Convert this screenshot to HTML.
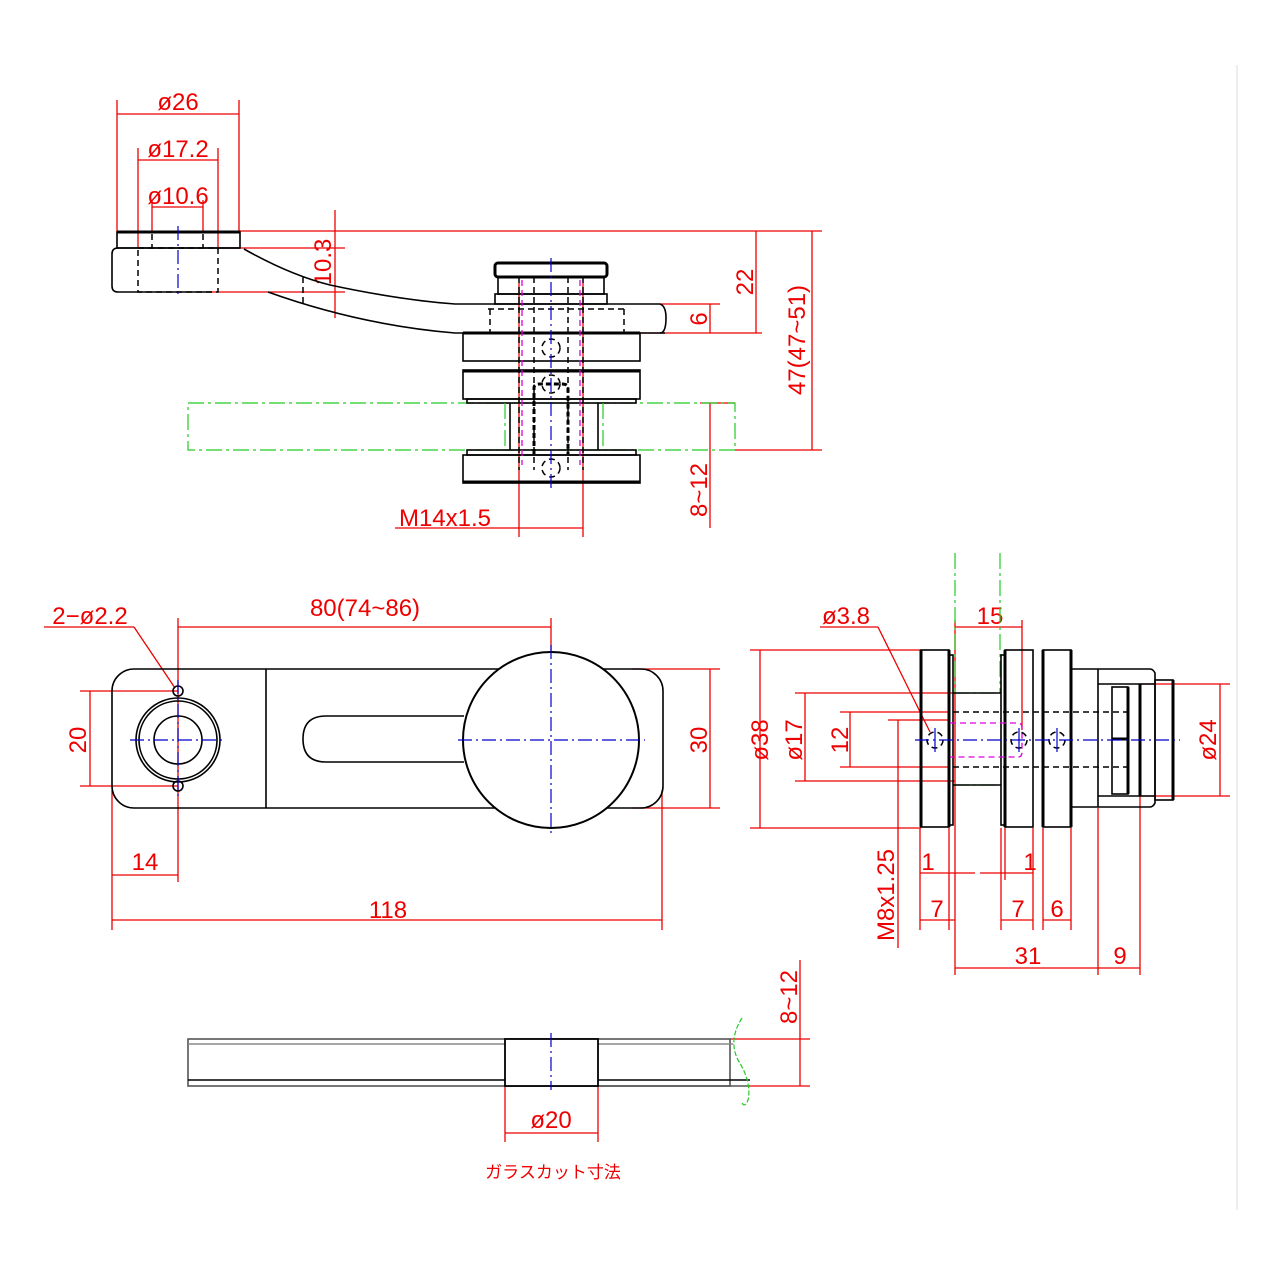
<!DOCTYPE html>
<html><head><meta charset="utf-8"><style>
html,body{margin:0;padding:0;background:#fff;}
svg{display:block;}
text{font-family:"Liberation Sans","Noto Sans CJK JP",sans-serif;fill:#e00;font-size:24px;}
.k{stroke:#000;fill:none;stroke-width:1.6}
.kt{stroke:#000;fill:none;stroke-width:3}
.kd{stroke:#000;fill:none;stroke-width:1.5;stroke-dasharray:6 4}
.r{stroke:#e00;fill:none;stroke-width:1.3}
.b{stroke:#00c;fill:none;stroke-width:1.2;stroke-dasharray:14 4 2 4}
.g{stroke:#2c2;fill:none;stroke-width:1.2;stroke-dasharray:16 4 3 4}
.p{stroke:#d0d;fill:none;stroke-width:1.3;stroke-dasharray:6 4}
</style></head><body>
<svg width="1280" height="1280" viewBox="0 0 1280 1280" xmlns="http://www.w3.org/2000/svg">
<line x1="1237" y1="65" x2="1237" y2="1210" stroke="#ddd" stroke-width="1"/>

<!-- ===== TOP VIEW ===== -->
<!-- dims top -->
<g class="r">
<line x1="117" y1="100" x2="117" y2="232"/><line x1="239" y1="100" x2="239" y2="232"/>
<line x1="117" y1="114" x2="239" y2="114"/>
<line x1="138" y1="148" x2="138" y2="248"/><line x1="218" y1="148" x2="218" y2="248"/>
<line x1="138" y1="160" x2="218" y2="160"/>
<line x1="152" y1="200" x2="152" y2="232"/><line x1="203" y1="200" x2="203" y2="232"/>
<line x1="152" y1="207" x2="203" y2="207"/>
<line x1="239" y1="231" x2="822" y2="231"/>
<line x1="335" y1="210" x2="335" y2="318"/>
<line x1="218" y1="248" x2="345" y2="248"/>
<line x1="212" y1="292" x2="345" y2="292"/>
<line x1="756" y1="231" x2="756" y2="333"/>
<line x1="640" y1="333" x2="762" y2="333"/>
<line x1="660" y1="304" x2="720" y2="304"/>
<line x1="710" y1="304" x2="710" y2="333"/>
<line x1="812" y1="231" x2="812" y2="450"/>
<line x1="735" y1="450" x2="822" y2="450"/>
<line x1="710" y1="403" x2="710" y2="528"/>
<line x1="700" y1="403" x2="735" y2="403"/>
<line x1="519" y1="283" x2="519" y2="537"/><line x1="583" y1="283" x2="583" y2="537"/>
<line x1="395" y1="528" x2="583" y2="528"/>
</g>
<text x="178" y="110" text-anchor="middle">ø26</text>
<text x="178" y="157" text-anchor="middle">ø17.2</text>
<text x="178" y="204" text-anchor="middle">ø10.6</text>
<text transform="translate(331,262) rotate(-90)" text-anchor="middle">10.3</text>
<text transform="translate(753,282) rotate(-90)" text-anchor="middle">22</text>
<text transform="translate(707,319) rotate(-90)" text-anchor="middle">6</text>
<text transform="translate(805,340) rotate(-90)" text-anchor="middle">47(47~51)</text>
<text transform="translate(707,490) rotate(-90)" text-anchor="middle">8~12</text>
<text x="445" y="526" text-anchor="middle">M14x1.5</text>

<!-- glass -->
<rect x="188" y="403" width="547" height="47" class="g"/>
<!-- handle -->
<line x1="117" y1="232" x2="240" y2="232" class="kt"/>
<rect x="117" y="232" width="123" height="16" class="k"/>
<path d="M118 248 Q112 248 112 254 L112 286 Q112 292 118 292 L212 292" class="k"/>
<line x1="118" y1="248" x2="240" y2="248" class="k"/>
<rect x="138" y="248" width="80" height="44" class="kd"/>
<line x1="152" y1="234" x2="152" y2="248" class="kd"/><line x1="203" y1="234" x2="203" y2="248" class="kd"/>
<path d="M244 249 Q290 275 330 285 Q400 300 455 304 L660 304 Q666 306 666 318 Q666 333 660 333" class="k"/>
<path d="M268 292 Q360 325 455 333 L665 333" class="k"/>
<line x1="303" y1="277" x2="303" y2="305" class="kd"/>
<!-- hub -->
<rect x="495" y="263" width="112" height="14" rx="3" class="kt" stroke-width="2.2"/>
<rect x="498" y="277" width="106" height="17" class="k"/>
<rect x="495" y="294" width="112" height="10" class="k"/>
<path d="M488 309 L627 309 M490 309 L490 333 M624 309 L624 333" class="kd"/>
<rect x="463" y="333" width="177" height="28" class="k"/><line x1="463" y1="333" x2="640" y2="333" class="kt"/>
<rect x="463" y="370" width="177" height="29" class="k"/><line x1="463" y1="371" x2="640" y2="371" class="kt"/>
<rect x="467" y="399" width="169" height="4" class="k"/>
<rect x="467" y="450" width="169" height="5" class="k"/>
<rect x="463" y="455" width="177" height="28" class="k"/><line x1="463" y1="482" x2="640" y2="482" class="kt"/>
<line x1="510" y1="403" x2="510" y2="450" class="k"/><line x1="598" y1="403" x2="598" y2="450" class="k"/>
<line x1="505" y1="403" x2="505" y2="450" class="g"/><line x1="603" y1="403" x2="603" y2="450" class="g"/>
<line x1="519" y1="277" x2="519" y2="470" class="kd"/><line x1="534" y1="277" x2="534" y2="470" class="kd"/>
<line x1="568" y1="277" x2="568" y2="470" class="kd"/><line x1="583" y1="277" x2="583" y2="470" class="kd"/>
<line x1="522" y1="280" x2="522" y2="465" class="p"/><line x1="580" y1="280" x2="580" y2="465" class="p"/>
<path d="M534 454 L534 388 Q534 384 540 384 L562 384 Q568 384 568 388 L568 454" class="kt" stroke-width="2.4" stroke-dasharray="5 3"/>
<circle cx="551" cy="348" r="9" class="kd"/><circle cx="551" cy="384" r="9" class="kd"/><circle cx="551" cy="468" r="9" class="kd"/>
<line x1="551" y1="258" x2="551" y2="488" class="b" stroke-dasharray="30 4 3 4"/>
<line x1="178" y1="226" x2="178" y2="296" class="b"/>

<!-- ===== FRONT VIEW ===== -->
<g class="r">
<line x1="178" y1="618" x2="178" y2="882"/>
<line x1="551" y1="618" x2="551" y2="660"/>
<line x1="178" y1="627" x2="551" y2="627"/>
<line x1="44" y1="627" x2="134" y2="627"/>
<line x1="134" y1="627" x2="175" y2="688"/>
<line x1="80" y1="691" x2="178" y2="691"/><line x1="80" y1="786" x2="178" y2="786"/>
<line x1="90" y1="691" x2="90" y2="786"/>
<line x1="632" y1="669" x2="720" y2="669"/><line x1="632" y1="808" x2="720" y2="808"/>
<line x1="710" y1="669" x2="710" y2="808"/>
<line x1="112" y1="790" x2="112" y2="930"/>
<line x1="662" y1="790" x2="662" y2="930"/>
<line x1="112" y1="875" x2="178" y2="875"/>
<line x1="112" y1="920" x2="662" y2="920"/>
</g>
<text x="90" y="624" text-anchor="middle">2−ø2.2</text>
<text x="365" y="616" text-anchor="middle">80(74~86)</text>
<text transform="translate(86,740) rotate(-90)" text-anchor="middle">20</text>
<text transform="translate(707,740) rotate(-90)" text-anchor="middle">30</text>
<text x="145" y="870" text-anchor="middle">14</text>
<text x="388" y="918" text-anchor="middle">118</text>

<rect x="112" y="669" width="551" height="139" rx="22" class="k"/>
<line x1="266" y1="669" x2="266" y2="808" class="k"/>
<path d="M464 716 L326 716 Q303 716 303 739 Q303 762 326 762 L464 762" class="k"/>
<circle cx="551" cy="740" r="88" fill="#fff" stroke="#000" stroke-width="2"/>
<circle cx="178" cy="740" r="42" class="k" stroke-width="2"/>
<circle cx="178" cy="740" r="39" class="k" stroke-width="1"/>
<circle cx="178" cy="740" r="24" class="k"/>
<circle cx="178" cy="691" r="5" class="k"/><circle cx="178" cy="786" r="5" class="k"/>
<line x1="178" y1="680" x2="178" y2="800" class="b"/>
<line x1="130" y1="740" x2="225" y2="740" class="b"/>
<line x1="551" y1="645" x2="551" y2="835" class="b"/>
<line x1="458" y1="740" x2="645" y2="740" class="b"/>

<!-- ===== SIDE VIEW ===== -->
<g class="r">
<line x1="750" y1="650" x2="921" y2="650"/><line x1="750" y1="828" x2="921" y2="828"/>
<line x1="760" y1="650" x2="760" y2="828"/>
<line x1="795" y1="693" x2="955" y2="693"/><line x1="795" y1="781" x2="955" y2="781"/>
<line x1="805" y1="693" x2="805" y2="781"/>
<line x1="840" y1="712" x2="950" y2="712"/><line x1="840" y1="767" x2="950" y2="767"/>
<line x1="850" y1="712" x2="850" y2="767"/>
<line x1="888" y1="720" x2="950" y2="720"/>
<line x1="898" y1="720" x2="898" y2="948"/>
<line x1="1140" y1="684" x2="1230" y2="684"/><line x1="1140" y1="796" x2="1230" y2="796"/>
<line x1="1220" y1="684" x2="1220" y2="796"/>
<line x1="955" y1="620" x2="955" y2="975"/>
<line x1="1022" y1="620" x2="1022" y2="730"/>
<line x1="955" y1="627" x2="1022" y2="627"/>
<line x1="820" y1="627" x2="878" y2="627"/>
<line x1="878" y1="627" x2="930" y2="732"/>
<line x1="920" y1="828" x2="920" y2="930"/><line x1="949" y1="828" x2="949" y2="930"/>
<line x1="1001" y1="828" x2="1001" y2="930"/><line x1="1005" y1="828" x2="1005" y2="880"/>
<line x1="1033" y1="828" x2="1033" y2="930"/>
<line x1="1043" y1="828" x2="1043" y2="930"/><line x1="1071" y1="828" x2="1071" y2="930"/>
<line x1="1098" y1="808" x2="1098" y2="975"/><line x1="1140" y1="796" x2="1140" y2="975"/>
<line x1="920" y1="873" x2="975" y2="873"/><line x1="980" y1="873" x2="1033" y2="873"/>
<line x1="920" y1="920" x2="955" y2="920"/>
<line x1="1001" y1="920" x2="1033" y2="920"/>
<line x1="1043" y1="920" x2="1071" y2="920"/>
<line x1="955" y1="968" x2="1098" y2="968"/>
<line x1="1098" y1="968" x2="1140" y2="968"/>
</g>
<text transform="translate(768,740) rotate(-90)" text-anchor="middle">ø38</text>
<text transform="translate(802,740) rotate(-90)" text-anchor="middle">ø17</text>
<text transform="translate(848,740) rotate(-90)" text-anchor="middle">12</text>
<text transform="translate(1216,740) rotate(-90)" text-anchor="middle">ø24</text>
<text x="990" y="624" text-anchor="middle">15</text>
<text x="846" y="624" text-anchor="middle">ø3.8</text>
<text x="928" y="870" text-anchor="middle">1</text>
<text x="1030" y="870" text-anchor="middle">1</text>
<text x="937" y="917" text-anchor="middle">7</text>
<text x="1018" y="917" text-anchor="middle">7</text>
<text x="1057" y="917" text-anchor="middle">6</text>
<text x="1028" y="964" text-anchor="middle">31</text>
<text x="1120" y="964" text-anchor="middle">9</text>
<text transform="translate(894,895) rotate(-90)" text-anchor="middle">M8x1.25</text>

<line x1="955" y1="553" x2="955" y2="693" class="g"/><line x1="1000" y1="553" x2="1000" y2="693" class="g"/>
<line x1="953" y1="693" x2="1001" y2="693" class="g"/><line x1="953" y1="785" x2="1001" y2="785" class="g"/>
<rect x="921" y="650" width="28" height="177" class="k"/>
<line x1="921" y1="650" x2="921" y2="827" class="kt"/><line x1="949" y1="650" x2="949" y2="827" class="kt"/>
<rect x="949" y="655" width="4" height="170" class="k"/>
<rect x="1005" y="650" width="28" height="177" class="k"/>
<line x1="1005" y1="650" x2="1005" y2="827" class="kt"/>
<rect x="1001" y="655" width="4" height="170" class="k"/>
<rect x="1043" y="650" width="28" height="177" class="k"/>
<line x1="1043" y1="650" x2="1043" y2="827" class="kt"/><line x1="1071" y1="650" x2="1071" y2="827" class="kt"/>
<path d="M1071 669 L1150 669 Q1153 669 1155 673 L1155 803 Q1153 807 1150 807 L1071 807" class="k"/>
<line x1="1098" y1="669" x2="1098" y2="807" class="k"/>
<line x1="1098" y1="684" x2="1155" y2="684" class="k"/><line x1="1098" y1="796" x2="1155" y2="796" class="k"/>
<rect x="1155" y="680" width="18" height="120" class="k"/>
<line x1="1173" y1="680" x2="1173" y2="800" class="kt"/>
<rect x="1112" y="687" width="16" height="107" class="k"/>
<line x1="1128" y1="687" x2="1128" y2="794" class="kt"/>
<line x1="1140" y1="684" x2="1140" y2="796" class="kt"/>
<line x1="1112" y1="739" x2="1128" y2="739" class="kt"/>
<line x1="953" y1="712" x2="1128" y2="712" class="kd"/><line x1="953" y1="767" x2="1128" y2="767" class="kd"/>
<path d="M950 723 L1018 723 Q1022 723 1022 728 L1022 752 Q1022 757 1018 757 L950 757" class="p"/>
<line x1="953" y1="693" x2="1001" y2="693" class="k"/><line x1="953" y1="785" x2="1001" y2="785" class="k"/>
<circle cx="935" cy="740" r="8" class="kd"/><circle cx="1019" cy="740" r="8" class="kd"/><circle cx="1057" cy="740" r="8" class="kd"/>
<line x1="935" y1="728" x2="935" y2="752" stroke="#00c" stroke-width="1.2"/>
<line x1="1019" y1="728" x2="1019" y2="752" stroke="#00c" stroke-width="1.2"/>
<line x1="1057" y1="728" x2="1057" y2="752" stroke="#00c" stroke-width="1.2"/>
<line x1="915" y1="740" x2="1180" y2="740" class="b"/>

<!-- ===== GLASS CUT VIEW ===== -->
<g class="r">
<line x1="730" y1="1039" x2="810" y2="1039"/><line x1="750" y1="1086" x2="810" y2="1086"/>
<line x1="800" y1="960" x2="800" y2="1086"/>
<line x1="505" y1="1086" x2="505" y2="1142"/><line x1="598" y1="1086" x2="598" y2="1142"/>
<line x1="505" y1="1133" x2="598" y2="1133"/>
</g>
<text transform="translate(797,997) rotate(-90)" text-anchor="middle">8~12</text>
<text x="551" y="1128" text-anchor="middle">ø20</text>
<text x="553" y="1178" text-anchor="middle" style="font-size:17px">ガラスカット寸法</text>
<rect x="188" y="1039" width="542" height="47" fill="none" stroke="#555" stroke-width="1.6"/>
<line x1="188" y1="1044" x2="505" y2="1044" stroke="#888" stroke-width="1.4"/>
<line x1="598" y1="1044" x2="733" y2="1044" stroke="#888" stroke-width="1.4"/>
<line x1="188" y1="1080" x2="505" y2="1080" class="k"/>
<line x1="598" y1="1080" x2="750" y2="1080" class="k"/>
<line x1="598" y1="1086" x2="750" y2="1086" stroke="#555" stroke-width="1.6"/>
<rect x="505" y="1039" width="93" height="47" fill="#fff" stroke="#000" stroke-width="1.8"/>
<line x1="551" y1="1033" x2="551" y2="1090" class="b"/>
<path d="M742 1018 Q728 1040 738 1060 Q752 1082 748 1100 Q745 1108 742 1103" fill="none" stroke="#2c2" stroke-width="1.2" stroke-dasharray="5 2"/>
</svg>
</body></html>
